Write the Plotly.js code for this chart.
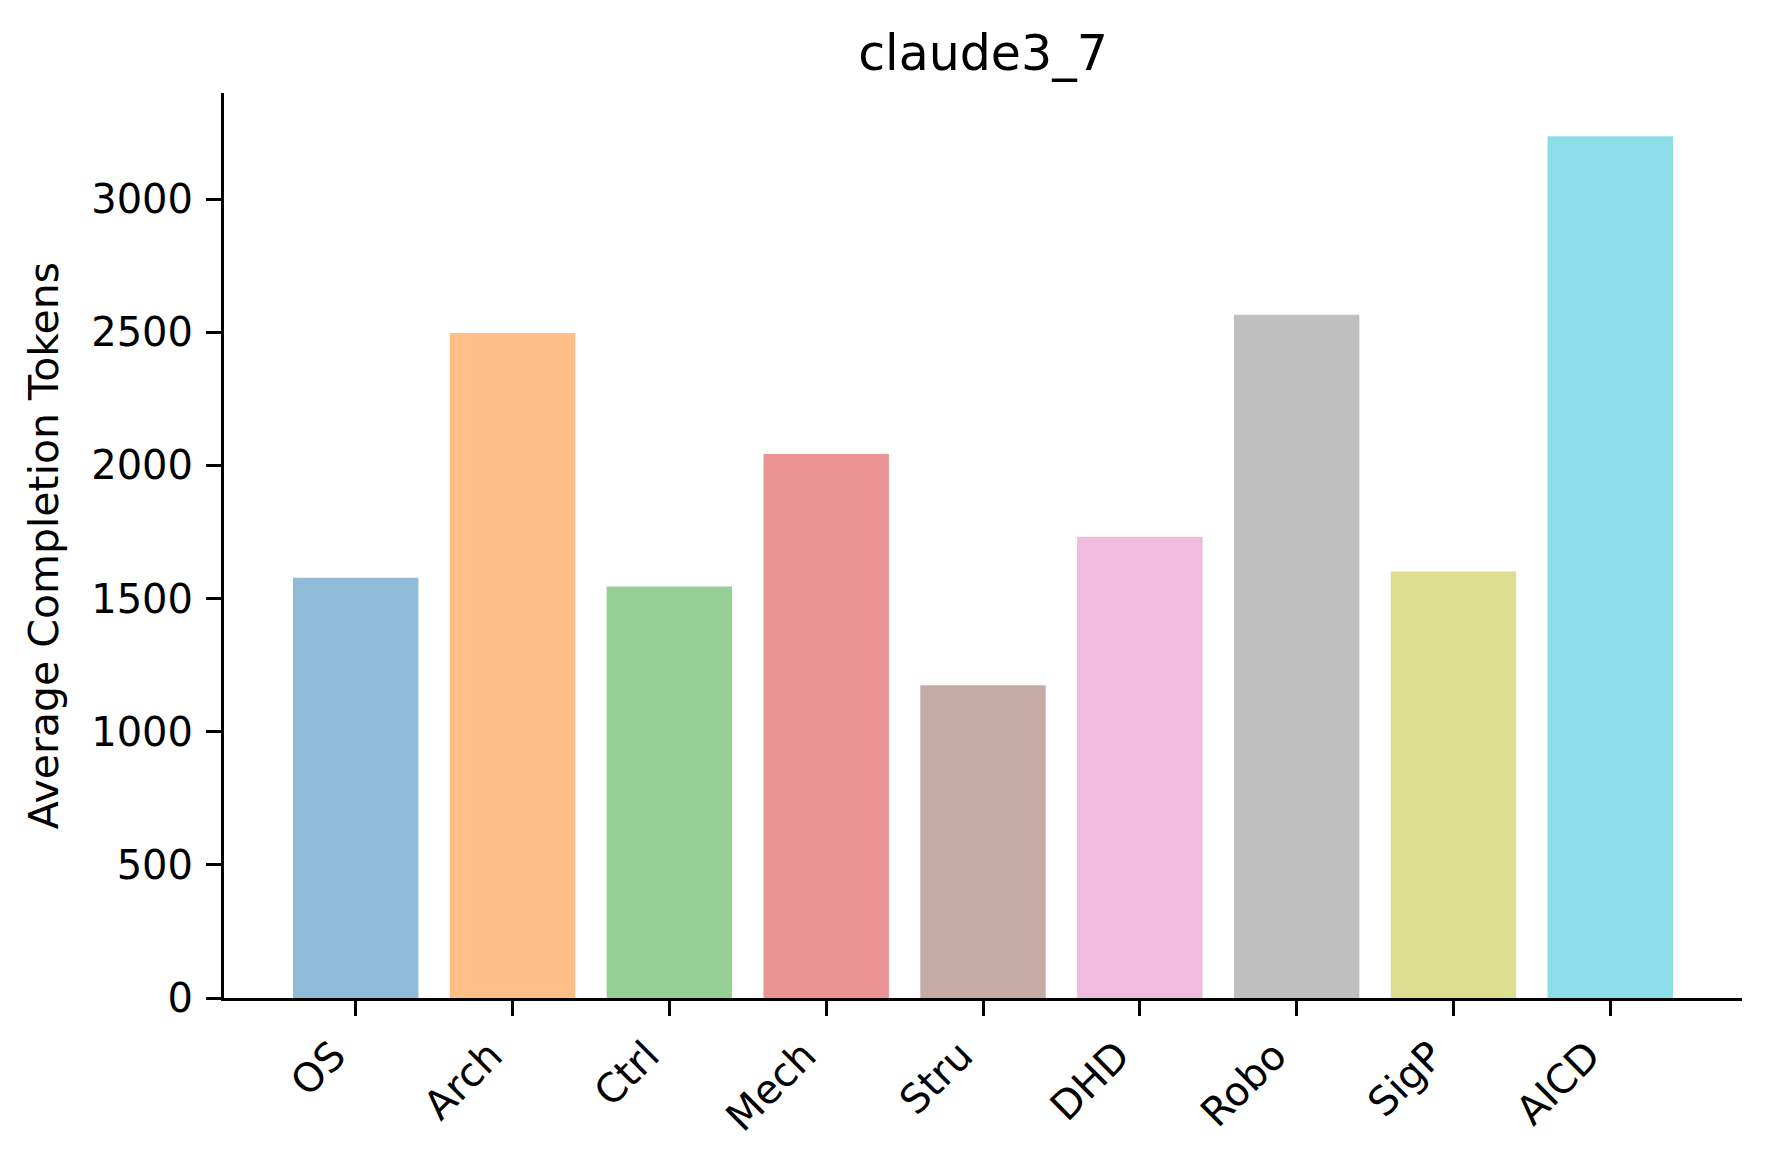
<!DOCTYPE html>
<html>
<head>
<meta charset="utf-8">
<script src="https://cdn.plot.ly/plotly-3.0.1.min.js"></script>
<style>
  body { margin: 0; background: #fff; }
  #chart { width: 1770px; height: 1166px; }
</style>
</head>
<body>
<div id="chart"></div>
<script>
// categories and average completion tokens
const categories = ["OS", "Arch", "Ctrl", "Mech", "Stru", "DHD", "Robo", "SigP", "AICD"];
const avgTokens = [1578, 2497, 1545, 2043, 1174, 1732, 2565, 1601, 3236];
const barColors = [
    "#1f77b4", "#ff7f0e", "#2ca02c", "#d62728", "#8c564b",
    "#e377c2", "#7f7f7f", "#bcbd22", "#17becf"
];
const yTicks = [0, 500, 1000, 1500, 2000, 2500, 3000];

const font = "DejaVu Sans, sans-serif";

const data = [{
    x: categories,
    y: avgTokens,
    type: 'bar',
    width: 0.8,
    marker: { color: barColors, opacity: 0.5, line: { width: 0 } },
    hoverinfo: 'x+y'
}];

const layout = {
    width: 1770,
    height: 1166,
    paper_bgcolor: '#fff',
    plot_bgcolor: '#fff',
    margin: { l: 224, r: 28, t: 93, b: 168 },
    font: { family: font, color: '#000' },
    showlegend: false,
    title: {
        text: 'claude3_7',
        font: { family: font, size: 49, color: '#000' },
        x: 0.5, xref: 'paper', xanchor: 'center',
        y: 0.9545, yref: 'container', yanchor: 'middle'
    },
    xaxis: {
        type: 'category',
        range: [-0.84, 8.84],
        showline: true, linecolor: '#000', linewidth: 3,
        ticks: 'outside', ticklen: 15, tickwidth: 3, tickcolor: '#000',
        tickangle: -45,
        ticklabelshift: -22,
        tickfont: { family: font, size: 40, color: '#000' },
        showgrid: false, zeroline: false
    },
    yaxis: {
        title: { text: 'Average Completion Tokens', font: { family: font, size: 41, color: '#000' }, standoff: 20 },
        range: [0, 3398],
        tickvals: yTicks,
        ticktext: yTicks.map(String),
        showline: true, linecolor: '#000', linewidth: 3,
        ticks: 'outside', ticklen: 15, tickwidth: 3, tickcolor: '#000',
        ticklabelstandoff: 5,
        tickfont: { family: font, size: 40, color: '#000' },
        showgrid: false, zeroline: false
    }
};

Plotly.newPlot('chart', data, layout, { displayModeBar: false, staticPlot: true });
</script>
</body>
</html>
